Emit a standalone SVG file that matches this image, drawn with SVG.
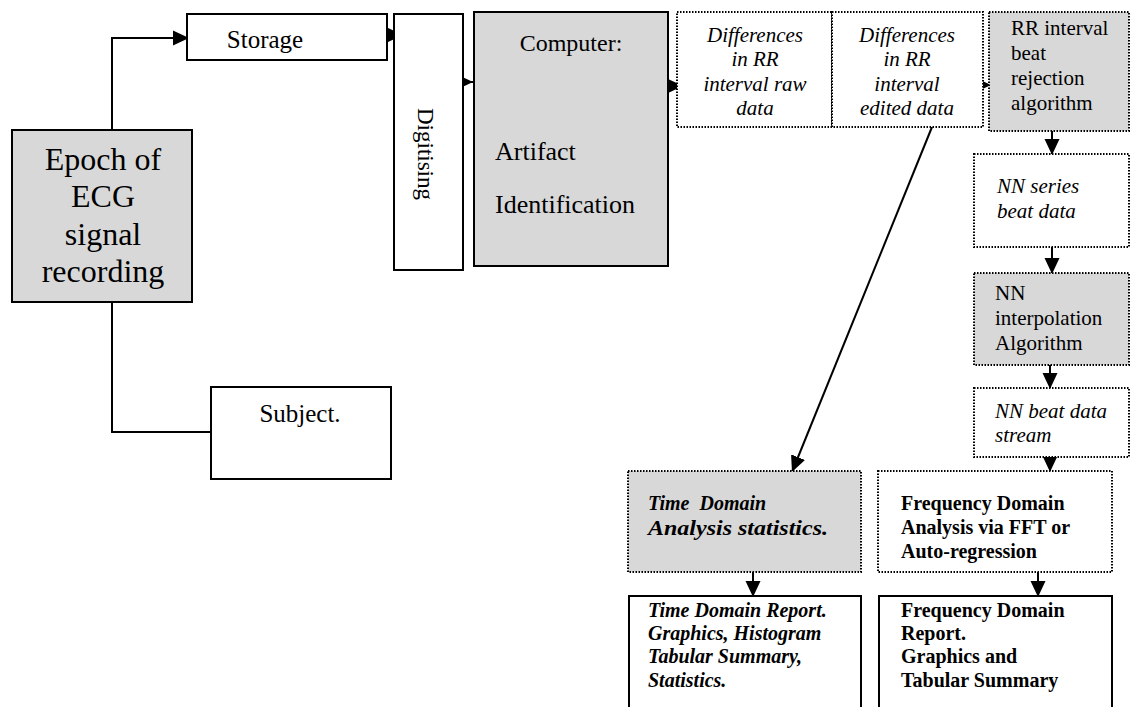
<svg xmlns="http://www.w3.org/2000/svg" width="1130" height="707" viewBox="0 0 1130 707">
<style>
.solid{fill:#fff;stroke:#000;stroke-width:2}
.solidg{fill:#d8d8d8;stroke:#000;stroke-width:2}
.dot{fill:#fff;stroke:#000;stroke-width:2;stroke-dasharray:1.5 1.5}
.dotg{fill:#d8d8d8;stroke:#000;stroke-width:2;stroke-dasharray:1.5 1.5}
text{font-family:"Liberation Serif","Times New Roman",serif;fill:#000}
.big{font-size:32px}
.md{font-size:25px}
.it{font-size:21px;font-style:italic}
.rg{font-size:21px}
.b{font-size:20px;font-weight:bold}
.bi{font-size:20px;font-weight:bold;font-style:italic}
.c{text-anchor:middle}
.ln{fill:none;stroke:#000;stroke-width:2}
</style>
<defs>
<marker id="ah" markerUnits="userSpaceOnUse" markerWidth="18" markerHeight="18" refX="16" refY="9" orient="auto">
<path d="M0,1.5 L16,9 L0,16.5 Z" fill="#000"/>
</marker>
</defs>
<g id="connectors">
<path class="ln" d="M112,130 V38 H189" marker-end="url(#ah)"/>
<path class="ln" d="M112,302 V432 H211"/>
<path class="ln" d="M386,35 H403" marker-end="url(#ah)"/>
<path class="ln" d="M452,82 H473" marker-end="url(#ah)"/>
<path class="ln" d="M666,86 H683" marker-end="url(#ah)"/>
<path class="ln" d="M824,84 H844" marker-end="url(#ah)"/>
<path class="ln" d="M960,85 H991" marker-end="url(#ah)"/>
<path class="ln" d="M1052,131 V155" marker-end="url(#ah)"/>
<path class="ln" d="M1052,247 V274" marker-end="url(#ah)"/>
<path class="ln" d="M1050,365 V389" marker-end="url(#ah)"/>
<path class="ln" d="M1050,457 V472" marker-end="url(#ah)"/>
<path class="ln" d="M932,127 L792,472" marker-end="url(#ah)"/>
<path class="ln" d="M753,572 V597" marker-end="url(#ah)"/>
<path class="ln" d="M1038,572 V597" marker-end="url(#ah)"/>
</g>
<g id="epoch">
<rect class="solidg" x="12" y="130" width="180" height="172"/>
<text class="big c" x="103" y="170">Epoch of</text>
<text class="big c" x="103" y="207">ECG</text>
<text class="big c" x="103" y="245">signal</text>
<text class="big c" x="103" y="282">recording</text>
</g>
<g id="storage">
<rect class="solid" x="187" y="14" width="200" height="46"/>
<text class="md c" x="265" y="48">Storage</text>
</g>
<g id="subject">
<rect class="solid" x="211" y="387" width="180" height="92"/>
<text class="md c" x="300" y="422">Subject.</text>
</g>
<g id="digitising">
<rect class="solid" x="394" y="14" width="69" height="256"/>
<text class="c" style="font-size:23px" transform="translate(418,154) rotate(90)">Digitising</text>
</g>
<g id="computer">
<rect class="solidg" x="474" y="12" width="194" height="254"/>
<text class="c" style="font-size:24px" x="571" y="51">Computer:</text>
<text style="font-size:26px" x="495" y="160">Artifact</text>
<text style="font-size:26px" x="495" y="213">Identification</text>
</g>
<g id="diff-raw">
<rect class="dot" x="677" y="12" width="155" height="115"/>
<text class="it c" x="755" y="42">Differences</text>
<text class="it c" x="755" y="66">in RR</text>
<text class="it c" x="755" y="91">interval raw</text>
<text class="it c" x="755" y="115">data</text>
</g>
<g id="diff-edited">
<rect class="dot" x="832" y="12" width="151" height="115"/>
<text class="it c" x="907" y="42">Differences</text>
<text class="it c" x="907" y="66">in RR</text>
<text class="it c" x="907" y="91">interval</text>
<text class="it c" x="907" y="115">edited data</text>
</g>
<g id="rr-rejection">
<rect class="dotg" x="989" y="12" width="140" height="119"/>
<text class="rg" x="1011" y="35">RR interval</text>
<text class="rg" x="1011" y="60">beat</text>
<text class="rg" x="1011" y="85">rejection</text>
<text class="rg" x="1011" y="110">algorithm</text>
</g>
<g id="nn-series">
<rect class="dot" x="974" y="154" width="155" height="93"/>
<text class="it" x="997" y="193">NN series</text>
<text class="it" x="997" y="218">beat data</text>
</g>
<g id="nn-interp">
<rect class="dotg" x="974" y="273" width="155" height="92"/>
<text class="rg" x="995" y="300">NN</text>
<text class="rg" x="995" y="325">interpolation</text>
<text class="rg" x="995" y="350">Algorithm</text>
</g>
<g id="nn-stream">
<rect class="dot" x="974" y="388" width="155" height="69"/>
<text class="it" x="995" y="418">NN beat data</text>
<text class="it" x="995" y="442">stream</text>
</g>
<g id="time-analysis">
<rect class="dotg" x="628" y="471" width="233" height="101"/>
<text class="bi" x="648" y="510" style="white-space:pre">Time  Domain</text>
<text class="bi" x="648" y="535" textLength="180" lengthAdjust="spacingAndGlyphs">Analysis statistics.</text>
</g>
<g id="freq-analysis">
<rect class="dot" x="878" y="471" width="234" height="101"/>
<text class="b" x="901" y="510">Frequency Domain</text>
<text class="b" x="901" y="534">Analysis via FFT or</text>
<text class="b" x="901" y="558">Auto-regression</text>
</g>
<g id="time-report">
<rect class="solid" x="629" y="596" width="232" height="130"/>
<text class="bi" x="648" y="617">Time Domain Report.</text>
<text class="bi" x="648" y="640">Graphics, Histogram</text>
<text class="bi" x="648" y="663">Tabular Summary,</text>
<text class="bi" x="648" y="687">Statistics.</text>
</g>
<g id="freq-report">
<rect class="solid" x="879" y="596" width="233" height="130"/>
<text class="b" x="901" y="617">Frequency Domain</text>
<text class="b" x="901" y="640">Report.</text>
<text class="b" x="901" y="663">Graphics and</text>
<text class="b" x="901" y="687">Tabular Summary</text>
</g>
</svg>
